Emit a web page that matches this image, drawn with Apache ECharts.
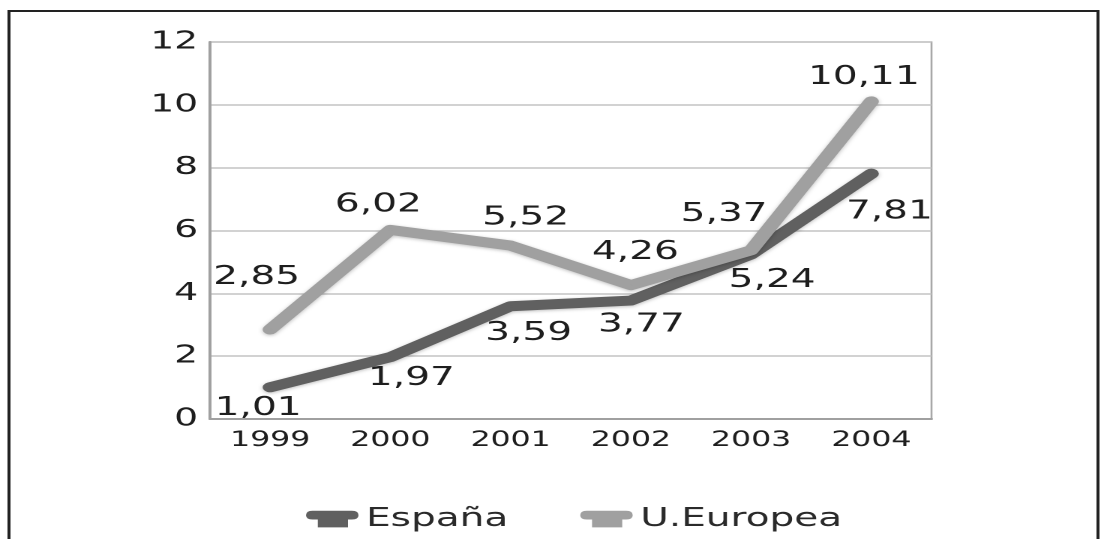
<!DOCTYPE html>
<html>
<head>
<meta charset="utf-8">
<script src="https://cdn.jsdelivr.net/npm/echarts@6/dist/echarts.min.js"></script>
<style>
  html, body { margin: 0; padding: 0; background: #fff; overflow: hidden; }
  #wrap { width: 1107px; height: 539px; overflow: hidden; }
  /* the chart is laid out narrow and widened 1.5x, giving the broad lettering */
  #chart { width: 738px; height: 539px; transform: scaleX(1.5); transform-origin: 0 0; }
</style>
</head>
<body>
<div id="wrap"><div id="chart"></div></div>
<script>
// Years on the category axis
const years = ['1999', '2000', '2001', '2002', '2003', '2004'];
// Series values
const espana = [1.01, 1.97, 3.59, 3.77, 5.24, 7.81];
const europa = [2.85, 6.02, 5.52, 4.26, 5.37, 10.11];
// Value axis range
const yMin = 0, yMax = 12, yStep = 2;

// Where each value label sits relative to its point (layout px)
const espanaLabelShift = [[-8, 21], [14, 21], [12, 27], [7, 24], [14, 26], [12, 38]];
const europaLabelShift = [[-9, -52], [-8, -25], [10, -28], [3, -33], [-18, -36], [-5, -24]];

const FONT = 'DejaVu Sans';
const fmt = v => v.toFixed(2).replace('.', ',');

function withLabels(values, shifts) {
  return values.map((v, i) => ({
    value: v,
    label: { offset: shifts[i] }
  }));
}

// T-shaped pipe marker used in the legend
const pipeIcon = 'path://M5,1 L35,1 Q40,1 40,6 Q40,11 35,11 L32,11 L32,20 L9,20 L9,11 L5,11 Q0,11 0,6 Q0,1 5,1 Z';

const chart = echarts.init(document.getElementById('chart'), null, { devicePixelRatio: 2 });

const seriesLabel = {
  show: true,
  position: 'inside',
  align: 'center',
  verticalAlign: 'middle',
  fontFamily: FONT,
  fontSize: 26,
  color: '#1e1e1e',
  formatter: p => fmt(p.value)
};

chart.setOption({
  animation: false,
  backgroundColor: '#ffffff',
  textStyle: { fontFamily: FONT },
  graphic: [{
    type: 'rect',
    shape: { x: 6, y: 11, width: 726, height: 580 },
    style: { fill: 'none', stroke: '#222', lineWidth: 2 },
    silent: true
  }],
  grid: {
    left: 140, right: 117, top: 42, bottom: 120,
    show: true, borderColor: '#a8a8a8', borderWidth: 1.3
  },
  legend: {
    left: 199, top: 501,
    itemWidth: 35, itemHeight: 20, itemGap: 48,
    textStyle: { fontFamily: FONT, fontSize: 26, color: '#2a2a2a', padding: [0, 0, 0, 0] },
    data: [
      { name: 'España', icon: pipeIcon },
      { name: 'U.Europea', icon: pipeIcon }
    ]
  },
  xAxis: {
    type: 'category',
    data: years,
    boundaryGap: true,
    axisLine: { show: true, lineStyle: { color: '#a0a0a0', width: 2 } },
    axisTick: { show: false },
    axisLabel: { fontFamily: FONT, fontSize: 21, color: '#1e1e1e', margin: 11 },
    splitLine: { show: false }
  },
  yAxis: {
    type: 'value',
    min: yMin, max: yMax, interval: yStep,
    axisLine: { show: true, lineStyle: { color: '#a0a0a0', width: 2 } },
    axisTick: { show: false },
    axisLabel: { fontFamily: FONT, fontSize: 25, color: '#1e1e1e', margin: 8 },
    splitLine: { show: true, lineStyle: { color: '#c4c4c4', width: 1.5 } }
  },
  series: [
    {
      name: 'España',
      type: 'line',
      data: withLabels(espana, espanaLabelShift),
      symbol: 'circle', symbolSize: 2,
      itemStyle: { color: '#606060' },
      lineStyle: {
        color: '#606060', width: 10, cap: 'round', join: 'round',
        shadowColor: 'rgba(0,0,0,0.25)', shadowBlur: 3, shadowOffsetY: 1
      },
      label: seriesLabel,
      z: 2
    },
    {
      name: 'U.Europea',
      type: 'line',
      data: withLabels(europa, europaLabelShift),
      symbol: 'circle', symbolSize: 2,
      itemStyle: { color: '#a0a0a0' },
      lineStyle: {
        color: '#a0a0a0', width: 10, cap: 'round', join: 'round',
        shadowColor: 'rgba(0,0,0,0.25)', shadowBlur: 3, shadowOffsetY: 1
      },
      label: seriesLabel,
      z: 3
    }
  ]
});
</script>
</body>
</html>
